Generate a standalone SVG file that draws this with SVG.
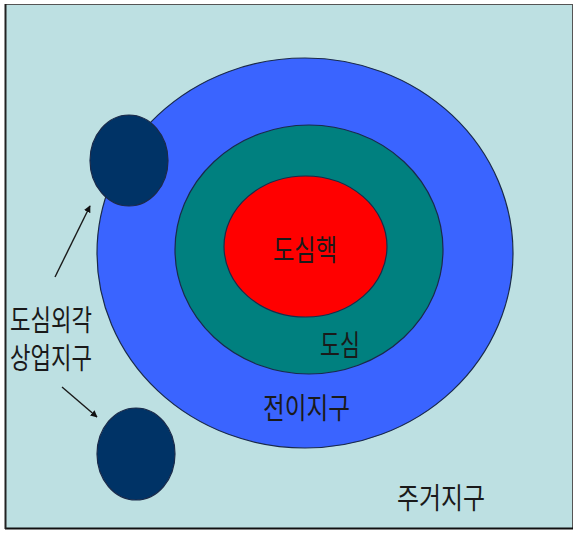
<svg xmlns="http://www.w3.org/2000/svg" width="576" height="533" viewBox="0 0 576 533">
<defs>
<style>
.lbl{font-family:"Noto Sans CJK KR","Noto Sans",sans-serif;font-size:29px;fill:#1a1a1a;}
.ring{stroke:#1a2a4a;stroke-width:1.2;}
.conn{stroke:#1a1a1a;stroke-width:1.4;fill:none;}
</style>
<marker id="ah" viewBox="0 0 10 10" refX="9" refY="5" markerWidth="7" markerHeight="7" orient="auto" markerUnits="userSpaceOnUse">
<path d="M0,0 L10,5 L0,10 z" fill="#111"/>
</marker>
</defs>
<rect x="0" y="0" width="576" height="533" fill="#ffffff"/>
<rect x="5.5" y="4.5" width="567" height="524" fill="#bde0e2" stroke="#555" stroke-width="1"/>
<line x1="5" y1="528.5" x2="573" y2="528.5" stroke="#111" stroke-width="2"/>
<line x1="5.5" y1="4" x2="5.5" y2="529" stroke="#222" stroke-width="2"/>
<g id="transition">
<ellipse class="ring" cx="305" cy="253" rx="208" ry="195" fill="#3a64ff"/>
</g>
<g id="cbd">
<ellipse class="ring" cx="309" cy="249.5" rx="134" ry="124.5" fill="#00807f"/>
</g>
<g id="core">
<ellipse class="ring" cx="305.5" cy="246.5" rx="81.5" ry="70.5" fill="#ff0000"/>
<text class="lbl" x="273" y="261" textLength="64" lengthAdjust="spacingAndGlyphs">도심핵</text>
</g>
<g id="cbd-label"><text class="lbl" x="320" y="356" textLength="40" lengthAdjust="spacingAndGlyphs">도심</text></g>
<g id="transition-label"><text class="lbl" x="263" y="419" textLength="87" lengthAdjust="spacingAndGlyphs">전이지구</text></g>
<g id="outer1"><ellipse class="ring" cx="129" cy="160.5" rx="39" ry="45.5" fill="#003366"/></g>
<g id="outer2"><ellipse class="ring" cx="136" cy="454" rx="39" ry="46" fill="#003366"/></g>
<g id="outer-label">
<text class="lbl" x="10" y="331" textLength="82" lengthAdjust="spacingAndGlyphs">도심외각</text>
<text class="lbl" x="10" y="369" textLength="82" lengthAdjust="spacingAndGlyphs">상업지구</text>
</g>
<g id="residential"><text class="lbl" x="397" y="509" textLength="88" lengthAdjust="spacingAndGlyphs">주거지구</text></g>
<g id="connectors">
<line class="conn" x1="55" y1="277" x2="90" y2="206" marker-end="url(#ah)"/>
<line class="conn" x1="62" y1="387" x2="97" y2="417" marker-end="url(#ah)"/>
</g>
</svg>
